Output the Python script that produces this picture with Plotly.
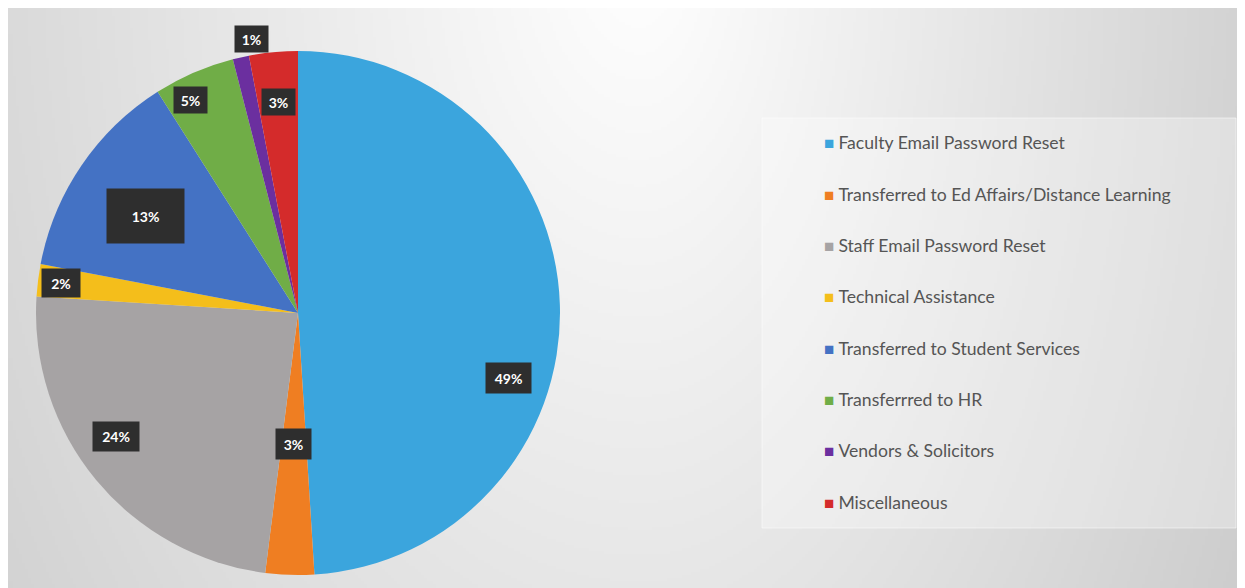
import base64, zlib, struct, math
import plotly.graph_objects as go

# ---------------- data ----------------
categories = [
    "Faculty Email Password Reset",
    "Transferred to Ed Affairs/Distance Learning",
    "Staff Email Password Reset",
    "Technical Assistance",
    "Transferred to Student Services",
    "Transferrred to HR",
    "Vendors & Solicitors",
    "Miscellaneous",
]
percents = [49, 3, 24, 2, 13, 5, 1, 3]

# ---------------- style ----------------
colors = ["#3BA5DD", "#EF7E22", "#A6A3A4", "#F4BE1B", "#4472C4", "#70AD47", "#6B2F9F", "#D42B2B"]
label_r = [0.84, 0.50, 0.84, 0.91, 0.69, 0.91, 1.06, 0.81]      # radial fraction of label
label_shift = [19, 0, 5.5, 0, -1.6, -3.3, 3, 0]                  # degrees, best-fit shift
box_w = [45, 35, 46, 38, 77, 33, 33, 33]
box_h = [30, 30, 29, 28, 54, 26, 26, 26]

PAGE_OFF = 8                 # browser body margin
W, H = 1245 - PAGE_OFF, 588 - PAGE_OFF
CX, CY, R = 298, 313, 262    # page coordinates


def px_x(x):
    return (x - PAGE_OFF) / W


def px_y(y):
    return 1 - (y - PAGE_OFF) / H


# ---------------- background gradient (png) ----------------
def make_png(w, h, fn):
    raw = b"".join(b"\x00" + bytes(fn(i, j) for i in range(w)) for j in range(h))

    def chunk(t, d):
        c = struct.pack(">I", len(d)) + t + d
        return c + struct.pack(">I", zlib.crc32(t + d) & 0xFFFFFFFF)

    ihdr = struct.pack(">IIBBBBB", w, h, 8, 0, 0, 0, 0)
    return (b"\x89PNG\r\n\x1a\n" + chunk(b"IHDR", ihdr)
            + chunk(b"IDAT", zlib.compress(raw, 9)) + chunk(b"IEND", b""))


S = 3
gw, gh = W // S, H // S


def shade(i, j):
    x = PAGE_OFF + i * S + 1.5
    y = PAGE_OFF + j * S + 1.5
    dx = x - 640
    dx = dx / 650 if dx < 0 else dx / 520
    dy = (y + 50) / 1000
    t = math.sqrt(dx * dx + dy * dy)
    v = 255 - 38 * t
    return max(190, min(255, int(v)))


png = make_png(gw, gh, shade)
bg_src = "data:image/png;base64," + base64.b64encode(png).decode()

# ---------------- figure ----------------
fig = go.Figure()
fig.add_trace(go.Pie(
    labels=categories,
    values=percents,
    sort=False,
    direction="clockwise",
    rotation=0,
    marker=dict(colors=colors, line=dict(width=0)),
    textinfo="none",
    showlegend=False,
    domain=dict(x=[px_x(CX - R), px_x(CX + R)], y=[px_y(CY + R), px_y(CY - R)]),
))

annotations = []
total = sum(percents)
cum = 0
for i, v in enumerate(percents):
    mid = (cum + v / 2) / total * 360 + label_shift[i]
    cum += v
    a = math.radians(mid)
    lx = CX + label_r[i] * R * math.sin(a)
    ly = CY - label_r[i] * R * math.cos(a)
    annotations.append(dict(
        x=px_x(lx), y=px_y(ly), xref="paper", yref="paper",
        text=f"<b>{round(v / total * 100)}%</b>", showarrow=False,
        font=dict(family="Lato", size=14, color="white"),
        bgcolor="#2E2E2E", width=box_w[i], height=box_h[i], borderpad=0,
        xanchor="center", yanchor="middle",
    ))

# legend (built from categories / colors)
LEG_X, LEG_Y0, LEG_DY = 822, 143, 51.3
for i, (cat, c) in enumerate(zip(categories, colors)):
    annotations.append(dict(
        x=px_x(LEG_X), y=px_y(LEG_Y0 + i * LEG_DY), xref="paper", yref="paper",
        text=f"<span style='color:{c};font-size:17px'>■</span><span style='font-size:16px'> </span>{cat}",
        showarrow=False, xanchor="left", yanchor="middle",
        font=dict(family="Lato", size=17.6, color="#555555"),
    ))

fig.update_layout(
    width=W, height=H,
    margin=dict(l=0, r=0, t=0, b=0),
    paper_bgcolor="white",
    plot_bgcolor="rgba(0,0,0,0)",
    images=[dict(source=bg_src, xref="paper", yref="paper", x=0, y=1,
                 sizex=1, sizey=1, sizing="stretch",
                 xanchor="left", yanchor="top", layer="below")],
    shapes=[dict(type="rect", xref="paper", yref="paper",
                 x0=px_x(762), x1=px_x(1236), y0=px_y(528), y1=px_y(118),
                 fillcolor="rgba(255,255,255,0.3)",
                 line=dict(color="rgba(255,255,255,0.5)", width=1), layer="below")],
    annotations=annotations,
)

fig.write_html("out.html")
